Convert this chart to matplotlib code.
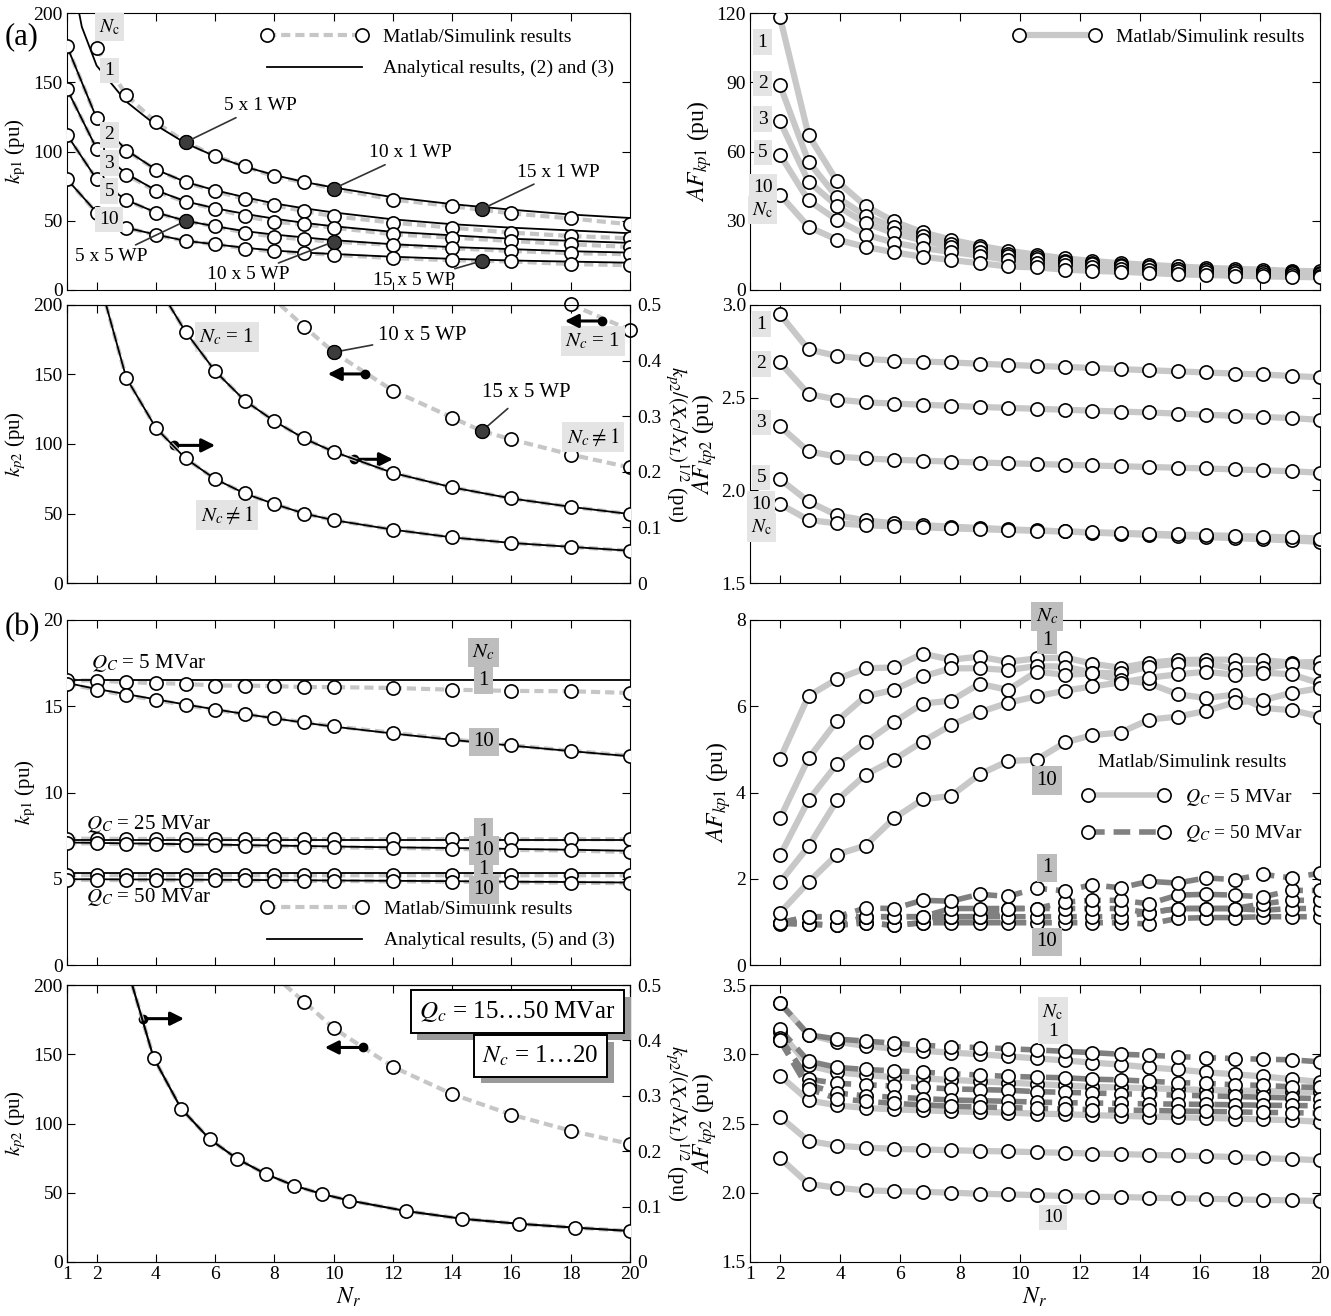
import numpy as np
import matplotlib.pyplot as plt
import matplotlib.patheffects as pe
from matplotlib.lines import Line2D

plt.rcParams['font.family'] = 'serif'
plt.rcParams['font.serif'] = ['Liberation Serif', 'DejaVu Serif']
plt.rcParams['mathtext.fontset'] = 'stix'

# ---------------- data ----------------
# x positions (N_r)
NR_A = [1, 2, 3, 4, 5, 6, 7, 8, 9, 10, 12, 14, 16, 18, 20]
NR_B = [2.0, 2.95, 3.9, 4.85, 5.8, 6.75, 7.7, 8.65, 9.6, 10.55, 11.5, 12.4,
        13.35, 14.3, 15.25, 16.2, 17.15, 18.1, 19.05, 20.0]

# (a) top-left: k_p1, Matlab/Simulink points (Nc = 1 starts at Nr = 2)
kp1_sim_nc1 = [174.6, 140.7, 121, 106.7, 96.9, 89.2, 82, 77.8, 73.2, 65.3, 60.5, 55.3, 51.7, 47.4]
kp1_sim_nc2 = [176, 124, 100.7, 86.8, 77.8, 71.3, 65.8, 61.2, 56.9, 53.3, 48.6, 45, 41.4, 39, 37.3]
kp1_sim_nc3 = [145, 102, 83.3, 71.3, 63.6, 58.6, 53.3, 49.3, 47.4, 45, 40.2, 37.8, 35.4, 33, 31.1]
kp1_sim_nc5 = [112, 80, 64.8, 55.7, 49.8, 45.9, 41.4, 38.5, 36.5, 34.9, 32.5, 30.1, 28.2, 26.6, 25.8]
kp1_sim_nc10 = [80, 55.7, 45, 39.7, 35.4, 33, 29.9, 27.8, 26.6, 25.4, 23, 21.5, 20.6, 18.7, 17.9]
# analytical curves
kp1_ana_nc1_nr = [1.3, 1.5, 2, 3, 4, 5, 6, 7, 8, 9, 10, 12, 14, 16, 18, 20]
kp1_ana_nc1 = [212, 190, 162, 136, 119, 106, 96.5, 89, 83, 78, 74, 67, 62, 58, 54.5, 52]
kp1_ana_nc2 = [176, 124, 101, 87, 78, 72, 67, 62.5, 59, 56, 51, 47.5, 45, 43, 41]
kp1_ana_nc3 = [145, 102, 84, 72, 64, 59, 55, 51.5, 48.5, 46, 42, 39.5, 37, 35.5, 34]
kp1_ana_nc5 = [112, 80, 65, 56, 50, 46, 42.5, 40, 38, 36, 33, 31, 29.5, 28, 27]
kp1_ana_nc10 = [80, 56, 45, 40, 35.5, 33, 30.5, 28.5, 27, 26, 24, 22.5, 21.3, 20.5, 19.7]
# working points (filled markers)
wp_nr = [5, 10, 15, 5, 10, 15]
wp_kp1 = [106.7, 73.2, 58.4, 49.8, 34.9, 21]
wp_names = ['5 x 1 WP', '10 x 1 WP', '15 x 1 WP', '5 x 5 WP', '10 x 5 WP', '15 x 5 WP']

# (a) top-right: AF_kp1
af1_nc1 = [118.1, 67.1, 47.2, 36.4, 29.7, 25.0, 21.8, 19.2, 17.0, 15.3, 13.7, 12.6, 11.6, 10.9, 10.2, 9.6, 9.2, 8.8, 8.3, 8.1]
af1_nc2 = [88.7, 55.6, 40.2, 32.1, 27.2, 23.2, 20.1, 18.0, 15.8, 14.1, 12.7, 11.6, 10.7, 9.9, 9.3, 8.8, 8.3, 7.9, 7.6, 7.4]
af1_nc3 = [73.0, 47.0, 36.4, 29.0, 24.6, 21.5, 18.7, 16.5, 14.7, 13.3, 12.3, 11.2, 10.5, 9.9, 9.2, 8.8, 8.2, 7.8, 7.4, 7.1]
af1_nc5 = [58.6, 38.8, 30.3, 24.0, 20.5, 18.2, 16.5, 14.9, 13.0, 11.9, 10.9, 9.9, 9.2, 8.5, 8.1, 7.6, 7.4, 6.9, 6.6, 6.2]
af1_nc10 = [41.3, 27.4, 21.8, 18.7, 16.3, 14.4, 13.0, 11.6, 10.2, 9.8, 8.8, 8.3, 7.9, 7.4, 6.8, 6.5, 6.2, 5.9, 5.7, 5.5]
af_labels = ['1', '2', '3', '5', '10']

# (a) second row left: k_p2 (left axis) and k_p2/(Xc/XL)^1/2 (right axis)
kp2n_nc1_nr = [4.45, 5, 6, 7, 8, 9, 10, 12, 14, 16, 18, 20]
kp2n_nc1 = [0.5, 0.452, 0.381, 0.328, 0.291, 0.260, 0.236, 0.198, 0.172, 0.152, 0.137, 0.124]
kp2n_ncx_nr = [2.32, 3, 4, 5, 6, 7, 8, 9, 10, 12, 14, 16, 18, 20]
kp2n_ncx = [0.5, 0.369, 0.279, 0.224, 0.187, 0.161, 0.142, 0.125, 0.113, 0.096, 0.082, 0.072, 0.065, 0.058]
kp2_ncx_nr = [8.2, 9, 10, 12, 14, 15, 16, 18, 20]
kp2_ncx = [200, 184.5, 166, 138.4, 119, 109.3, 103.3, 92.4, 83.1]
kp2_nc1_nr = [18, 20]
kp2_nc1 = [200.5, 182]

# (a) second row right: AF_kp2
af2_nc1 = [2.95, 2.76, 2.725, 2.71, 2.70, 2.695, 2.69, 2.683, 2.677, 2.671, 2.666, 2.66, 2.654, 2.648, 2.642, 2.636, 2.63, 2.625, 2.617, 2.61]
af2_nc2 = [2.69, 2.52, 2.49, 2.475, 2.468, 2.462, 2.456, 2.45, 2.445, 2.44, 2.435, 2.43, 2.425, 2.42, 2.414, 2.408, 2.402, 2.396, 2.39, 2.38]
af2_nc3 = [2.345, 2.21, 2.182, 2.172, 2.165, 2.16, 2.155, 2.15, 2.146, 2.142, 2.138, 2.134, 2.13, 2.126, 2.122, 2.118, 2.113, 2.108, 2.103, 2.095]
af2_nc5 = [2.06, 1.94, 1.865, 1.838, 1.822, 1.812, 1.804, 1.797, 1.79, 1.784, 1.778, 1.772, 1.766, 1.76, 1.754, 1.748, 1.742, 1.736, 1.73, 1.722]
af2_nc10 = [1.926, 1.84, 1.822, 1.812, 1.805, 1.8, 1.795, 1.79, 1.786, 1.782, 1.778, 1.774, 1.77, 1.766, 1.762, 1.758, 1.754, 1.75, 1.746, 1.74]

# (b) third row left: k_p1 for Qc = 5, 25, 50 MVar
q5_nc1_sim = [16.5, 16.49, 16.4, 16.34, 16.3, 16.2, 16.2, 16.17, 16.11, 16.11, 16.06, 15.96, 15.89, 15.87, 15.77]
q5_nc10_sim = [16.3, 15.96, 15.64, 15.36, 15.07, 14.79, 14.54, 14.31, 14.07, 13.84, 13.46, 13.08, 12.74, 12.42, 12.13]
q25_nc1_sim = [7.32, 7.32, 7.31, 7.31, 7.31, 7.3, 7.3, 7.3, 7.3, 7.3, 7.3, 7.3, 7.29, 7.29, 7.29]
q25_nc10_sim = [7.05, 7.05, 7.01, 7.0, 6.98, 6.96, 6.92, 6.9, 6.86, 6.82, 6.79, 6.73, 6.67, 6.64, 6.54]
q50_nc1_sim = [5.22, 5.22, 5.21, 5.21, 5.21, 5.21, 5.21, 5.2, 5.2, 5.2, 5.2, 5.2, 5.2, 5.2, 5.2]
q50_nc10_sim = [4.93, 4.93, 4.92, 4.92, 4.91, 4.9, 4.9, 4.89, 4.88, 4.87, 4.85, 4.83, 4.8, 4.77, 4.74]
flat_nr = [1, 20]
q5_nc1_ana = [16.55, 16.55]
q25_nc1_ana = [7.22, 7.22]
q50_nc1_ana = [5.31, 5.31]
q5_nc10_ana = [16.35, 16.0, 15.7, 15.4, 15.1, 14.82, 14.55, 14.3, 14.05, 13.82, 13.42, 13.05, 12.72, 12.4, 12.1]
q25_nc10_ana = [7.1, 7.08, 7.05, 7.03, 7.0, 6.98, 6.95, 6.92, 6.9, 6.87, 6.82, 6.78, 6.73, 6.68, 6.62]
q50_nc10_ana = [4.97, 4.97, 4.96, 4.96, 4.95, 4.94, 4.93, 4.92, 4.91, 4.9, 4.88, 4.86, 4.83, 4.81, 4.78]

# (b) third row right: AF_kp1, Qc = 5 MVar (solid) and 50 MVar (dashed)
af3_q5_nc1 = [4.78, 6.24, 6.63, 6.88, 6.9, 7.22, 7.08, 7.15, 7.03, 7.11, 7.13, 6.99, 6.89, 7.01, 7.07, 7.08, 7.08, 7.07, 7.01, 7.03]
af3_q5_nc2 = [3.4, 4.79, 5.66, 6.23, 6.38, 6.69, 6.88, 6.88, 6.84, 6.93, 6.92, 6.78, 6.76, 6.92, 6.99, 6.99, 6.88, 6.88, 6.98, 6.88]
af3_q5_nc3 = [2.54, 3.82, 4.66, 5.16, 5.63, 6.06, 6.13, 6.52, 6.38, 6.8, 6.73, 6.76, 6.61, 6.53, 6.28, 6.19, 6.27, 5.96, 5.91, 5.76]
af3_q5_nc5 = [1.92, 2.75, 3.82, 4.41, 4.76, 5.18, 5.56, 5.86, 6.08, 6.23, 6.36, 6.46, 6.55, 6.66, 6.74, 6.8, 6.73, 6.78, 6.74, 6.53]
af3_q5_nc10 = [1.21, 1.92, 2.56, 2.77, 3.4, 3.84, 3.92, 4.42, 4.73, 4.76, 5.16, 5.33, 5.39, 5.69, 5.76, 5.89, 6.09, 6.14, 6.31, 6.42]
af3_q50_nc1 = [0.98, 1.12, 1.12, 1.32, 1.31, 1.5, 1.48, 1.64, 1.59, 1.78, 1.72, 1.86, 1.79, 1.94, 1.9, 2.02, 1.98, 2.1, 2.02, 2.13]
af3_q50_nc2 = [0.98, 1.12, 1.12, 1.12, 1.12, 1.12, 1.31, 1.31, 1.31, 1.31, 1.46, 1.5, 1.5, 1.42, 1.62, 1.64, 1.62, 1.58, 1.73, 1.73]
af3_q50_nc3 = [0.98, 0.95, 0.92, 1.12, 1.12, 1.12, 1.12, 1.12, 1.31, 1.31, 1.31, 1.31, 1.31, 1.21, 1.31, 1.31, 1.31, 1.42, 1.5, 1.5]
af3_q50_nc5 = [0.98, 0.95, 0.92, 0.98, 0.92, 0.98, 1.12, 1.12, 1.12, 1.12, 1.12, 1.12, 1.12, 1.21, 1.31, 1.31, 1.31, 1.27, 1.31, 1.31]
af3_q50_nc10 = [0.96, 0.95, 0.92, 0.98, 0.92, 0.98, 0.98, 0.98, 0.98, 0.98, 0.98, 0.98, 0.98, 0.95, 1.08, 1.1, 1.1, 1.12, 1.12, 1.12]

# (b) bottom left: k_p2 for Qc = 15...50 MVar
kp2n_b_nr = [3.2, 3.92, 4.85, 5.81, 6.75, 7.7, 8.66, 9.59, 10.53, 12.44, 14.34, 16.24, 18.15, 20.0]
kp2n_b = [0.5, 0.369, 0.277, 0.222, 0.186, 0.159, 0.138, 0.123, 0.111, 0.092, 0.078, 0.069, 0.062, 0.056]
kp2_b_nr = [8.35, 9, 10, 12, 14, 16, 18, 20]
kp2_b = [200, 188, 168.8, 140.9, 121.2, 106.4, 94.8, 85.2]

# (b) bottom right: AF_kp2, Qc = 5 MVar (solid) and 50 MVar (dashed)
af4_q5_nc1 = [3.37, 3.14, 3.09, 3.06, 3.04, 3.025, 3.012, 3.0, 2.985, 2.97, 2.955, 2.94, 2.925, 2.905, 2.89, 2.87, 2.855, 2.84, 2.82, 2.80]
af4_q5_nc2 = [3.16, 2.92, 2.87, 2.85, 2.835, 2.825, 2.815, 2.805, 2.795, 2.785, 2.775, 2.765, 2.76, 2.755, 2.748, 2.742, 2.738, 2.734, 2.73, 2.728]
af4_q5_nc3 = [2.845, 2.667, 2.631, 2.612, 2.602, 2.595, 2.588, 2.583, 2.579, 2.571, 2.567, 2.56, 2.555, 2.55, 2.545, 2.54, 2.536, 2.529, 2.524, 2.512]
af4_q5_nc5 = [2.548, 2.374, 2.34, 2.326, 2.317, 2.312, 2.307, 2.302, 2.298, 2.293, 2.288, 2.283, 2.279, 2.274, 2.269, 2.264, 2.258, 2.25, 2.243, 2.235]
af4_q5_nc10 = [2.25, 2.064, 2.036, 2.017, 2.012, 2.007, 2.0, 1.993, 1.988, 1.983, 1.976, 1.971, 1.969, 1.964, 1.96, 1.957, 1.952, 1.948, 1.945, 1.94]
af4_q50_nc1 = [3.37, 3.14, 3.11, 3.095, 3.08, 3.065, 3.055, 3.048, 3.04, 3.031, 3.021, 3.012, 3.0, 2.993, 2.983, 2.976, 2.969, 2.964, 2.96, 2.945]
af4_q50_nc2 = [3.18, 2.95, 2.905, 2.89, 2.88, 2.87, 2.86, 2.85, 2.84, 2.835, 2.83, 2.82, 2.815, 2.805, 2.795, 2.79, 2.78, 2.775, 2.765, 2.76]
af4_q50_nc3 = [3.12, 2.82, 2.79, 2.78, 2.77, 2.76, 2.75, 2.745, 2.74, 2.73, 2.725, 2.72, 2.715, 2.71, 2.705, 2.7, 2.695, 2.69, 2.685, 2.68]
af4_q50_nc5 = [3.1, 2.78, 2.72, 2.7, 2.69, 2.68, 2.67, 2.665, 2.66, 2.655, 2.65, 2.648, 2.645, 2.642, 2.64, 2.638, 2.635, 2.632, 2.63, 2.628]
af4_q50_nc10 = [3.1, 2.75, 2.68, 2.66, 2.645, 2.635, 2.625, 2.62, 2.615, 2.61, 2.605, 2.6, 2.597, 2.594, 2.59, 2.587, 2.584, 2.58, 2.578, 2.575]

# ---------------- styling ----------------
SIM_GRAY = '#c6c6c6'
LINE_GRAY = '#c8c8c8'
DARK_GRAY = '#808080'
BOX_LIGHT = '#e4e4e4'
BOX_MID = '#bdbdbd'
WP_FILL = '#3c3c3c'
DASH = (0, (2.2, 1.2))
DASH_DARK = (0, (3, 1.6))
MK = dict(marker='o', ms=9.5, mfc='white', mec='black', mew=1.2)

W, H = 1331, 1316
fig = plt.figure(figsize=(W / 100, H / 100), dpi=100)


def make_ax(xs, ys):
    x0, x1 = xs
    y0, y1 = ys
    return fig.add_axes([x0 / W, 1 - y1 / H, (x1 - x0) / W, (y1 - y0) / H])


def setup(ax, ylim, yticks, ylabels, bottom=False, right=True):
    ax.set_xlim(1, 20)
    ax.set_ylim(*ylim)
    ax.set_xticks([1, 2, 4, 6, 8, 10, 12, 14, 16, 18, 20])
    ax.set_yticks(yticks)
    ax.set_yticklabels(ylabels)
    ax.tick_params(direction='in', top=True, right=right, length=6, labelsize=14,
                   labelbottom=bottom, pad=3)
    if bottom:
        ax.set_xlabel(r'$N_r$', fontsize=17, labelpad=2)


def twin(ax):
    axr = ax.twinx()
    axr.set_ylim(0, 0.5)
    axr.set_yticks([0, 0.1, 0.2, 0.3, 0.4, 0.5])
    axr.set_yticklabels(['0', '0.1', '0.2', '0.3', '0.4', '0.5'])
    axr.tick_params(direction='in', length=6, labelsize=14, pad=5)
    axr.set_ylabel(r'$k_{p2}/(X_C/X_L)^{1/2}$ (pu)', fontsize=15, rotation=270, labelpad=21)
    return axr


def tag(ax, x, y, s, fc=BOX_LIGHT, fs=14, **kw):
    ax.text(x, y, s, ha='center', va='center', fontsize=fs, zorder=6,
            bbox=dict(boxstyle='square,pad=0.22', fc=fc, ec='none'), **kw)


def side_arrow(ax, x0, x1, y):
    ax.annotate('', xy=(x1, y), xytext=(x0, y),
                arrowprops=dict(arrowstyle='-|>', color='k', lw=2.2, mutation_scale=20,
                                shrinkA=0, shrinkB=0), zorder=7)
    ax.plot([x0], [y], 'o', color='k', ms=6, zorder=8)


def sim_handle(color, ls, lw):
    return Line2D([], [], color=color, lw=lw, ls=ls, **MK)


LEFT = (67, 630)
RIGHT = (750, 1320)
ROW1, ROW2, ROW3, ROW4 = (13, 290), (305, 583), (620, 965), (985, 1262)
h_ana = Line2D([], [], color='k', lw=1.3)

# ======== (a) row 1 left: k_p1 ========
ax = make_ax(LEFT, ROW1)
setup(ax, (0, 200), [0, 50, 100, 150, 200], ['0', '50', '100', '150', '200'])
ax.set_ylabel(r'$k_{\mathrm{p1}}$ (pu)', fontsize=15)
sims = [(NR_A[1:], kp1_sim_nc1), (NR_A, kp1_sim_nc2), (NR_A, kp1_sim_nc3),
        (NR_A, kp1_sim_nc5), (NR_A, kp1_sim_nc10)]
anas = [(kp1_ana_nc1_nr, kp1_ana_nc1), (NR_A, kp1_ana_nc2), (NR_A, kp1_ana_nc3),
        (NR_A, kp1_ana_nc5), (NR_A, kp1_ana_nc10)]
for (nx, ny), (ax_, ay) in zip(sims, anas):
    ax.plot(nx, ny, color=SIM_GRAY, lw=3, ls=DASH, zorder=2)
    ax.plot(ax_, ay, color='k', lw=1.3, zorder=3)
    ax.plot(nx, ny, ls='none', zorder=4, **MK)
ax.plot(wp_nr, wp_kp1, 'o', ms=10, color=WP_FILL, mec='black', zorder=5)
wp_text = [(6.3, 133, 'left'), (11.2, 99, 'left'), (16.2, 85, 'left'),
           (3.7, 24, 'right'), (8.5, 11, 'right'), (14.1, 7, 'right')]
for (tx, ty, ha), x, y, name in zip(wp_text, wp_nr, wp_kp1, wp_names):
    ax.annotate(name, xy=(x, y), xytext=(tx, ty), ha=ha, va='center', fontsize=14,
                arrowprops=dict(arrowstyle='-', color='#333333', lw=1.2, shrinkA=1, shrinkB=5),
                zorder=6)
tag(ax, 2.43, 190, r'$N_{\mathrm{c}}$')
for s, y in zip(['1', '2', '3', '5', '10'], [158.6, 112, 91.6, 71.3, 51]):
    tag(ax, 2.43, y, s)
ax.legend([sim_handle(SIM_GRAY, DASH, 3), h_ana],
          ['Matlab/Simulink results', 'Analytical results, (2) and (3)'],
          loc='upper right', frameon=False, fontsize=14, handlelength=5.5, numpoints=2,
          borderaxespad=0.4, labelspacing=0.7)

# ======== (a) row 1 right: AF_kp1 ========
ax = make_ax(RIGHT, ROW1)
setup(ax, (0, 120), [0, 30, 60, 90, 120], ['0', '30', '60', '90', '120'])
ax.set_ylabel(r'$AF_{kp1}$ (pu)', fontsize=17, labelpad=2)
for ys in [af1_nc1, af1_nc2, af1_nc3, af1_nc5, af1_nc10]:
    ax.plot(NR_B, ys, color=LINE_GRAY, lw=4.5, zorder=2, solid_capstyle='round')
    ax.plot(NR_B, ys, ls='none', zorder=4, **MK)
for s, y in zip(af_labels + [r'$N_{\mathrm{c}}$'], [107.4, 89.4, 74, 59.6, 44.6, 34.5]):
    tag(ax, 1.42, y, s)
ax.legend([sim_handle(LINE_GRAY, '-', 4.5)], ['Matlab/Simulink results'],
          loc='upper right', frameon=False, fontsize=14, handlelength=4.5, numpoints=2,
          borderaxespad=0.4)

# ======== (a) row 2 left: k_p2 with twin axis ========
ax = make_ax(LEFT, ROW2)
setup(ax, (0, 200), [0, 50, 100, 150, 200], ['0', '50', '100', '150', '200'], right=False)
ax.set_ylabel(r'$k_{p2}$ (pu)', fontsize=15)
axr = twin(ax)
for nx, ny in [(kp2n_nc1_nr, kp2n_nc1), (kp2n_ncx_nr, kp2n_ncx)]:
    axr.plot(nx, ny, color=SIM_GRAY, lw=3, ls=DASH, zorder=2)
    axr.plot(nx, ny, color='k', lw=1.3, zorder=3)
    axr.plot(nx[1:], ny[1:], ls='none', zorder=4, **MK)
ax.plot(kp2_ncx_nr, kp2_ncx, color=SIM_GRAY, lw=3, ls=DASH, zorder=2)
ax.plot(kp2_ncx_nr[1:], kp2_ncx[1:], ls='none', zorder=4, **MK)
ax.plot(kp2_nc1_nr, kp2_nc1, color=SIM_GRAY, lw=3, ls=DASH, zorder=2)
ax.plot(kp2_nc1_nr, kp2_nc1, ls='none', zorder=4, clip_on=False, **MK)
ax.plot([10, 15], [166, 109.3], 'o', ms=10, color=WP_FILL, mec='black', zorder=5)
ax.annotate('10 x 5 WP', xy=(10, 166), xytext=(11.5, 178), ha='left', va='center', fontsize=15,
            arrowprops=dict(arrowstyle='-', color='#333333', lw=1.2, shrinkA=2, shrinkB=5))
ax.annotate('15 x 5 WP', xy=(15, 109.3), xytext=(15, 137), ha='left', va='center', fontsize=15,
            arrowprops=dict(arrowstyle='-', color='#333333', lw=1.2, shrinkA=4, shrinkB=5))
tag(ax, 6.4, 177, r'$N_c$ = 1', fs=15)
tag(ax, 6.4, 49, r'$N_c \neq 1$', fs=15)
tag(ax, 18.75, 174, r'$N_c$ = 1', fs=15)
tag(ax, 18.75, 105, r'$N_c \neq 1$', fs=15)
side_arrow(ax, 4.6, 6.0, 99)
side_arrow(ax, 10.7, 12.0, 89)
side_arrow(ax, 11.07, 9.8, 150.4)
side_arrow(ax, 19.07, 17.8, 188.5)

# ======== (a) row 2 right: AF_kp2 ========
ax = make_ax(RIGHT, ROW2)
setup(ax, (1.5, 3.0), [1.5, 2.0, 2.5, 3.0], ['1.5', '2.0', '2.5', '3.0'])
ax.set_ylabel(r'$AF_{kp2}$ (pu)', fontsize=17, labelpad=2)
for ys in [af2_nc1, af2_nc2, af2_nc3, af2_nc5, af2_nc10]:
    ax.plot(NR_B, ys, color=LINE_GRAY, lw=4.5, zorder=2)
    ax.plot(NR_B, ys, ls='none', zorder=4, **MK)
for s, y in zip(af_labels + [r'$N_{\mathrm{c}}$'], [2.896, 2.683, 2.365, 2.069, 1.926, 1.8]):
    tag(ax, 1.38, y, s)

# ======== (b) row 3 left: k_p1 vs Qc ========
ax = make_ax(LEFT, ROW3)
setup(ax, (0, 20), [0, 5, 10, 15, 20], ['0', '5', '10', '15', '20'])
ax.set_ylabel(r'$k_{\mathrm{p1}}$ (pu)', fontsize=15)
groups = [(q5_nc1_sim, flat_nr, q5_nc1_ana), (q5_nc10_sim, NR_A, q5_nc10_ana),
          (q25_nc1_sim, flat_nr, q25_nc1_ana), (q25_nc10_sim, NR_A, q25_nc10_ana),
          (q50_nc1_sim, flat_nr, q50_nc1_ana), (q50_nc10_sim, NR_A, q50_nc10_ana)]
for sim, anx, ana in groups:
    ax.plot(NR_A, sim, color=SIM_GRAY, lw=3, ls=DASH, zorder=2)
    ax.plot(anx, ana, color='k', lw=1.3, zorder=3)
    ax.plot(NR_A, sim, ls='none', zorder=4, **MK)
ax.text(1.8, 17.5, r'$Q_C$ = 5 MVar', fontsize=15, va='center')
ax.text(1.65, 8.2, r'$Q_C$ = 25 MVar', fontsize=15, va='center')
ax.text(1.65, 3.95, r'$Q_C$ = 50 MVar', fontsize=15, va='center')
tag(ax, 15.06, 18.1, r'$N_c$', fc=BOX_MID, fs=15)
for s, y in zip(['1', '10', '1', '10', '1', '10'], [16.5, 12.93, 7.68, 6.64, 5.54, 4.36]):
    tag(ax, 15.06, y, s, fc=BOX_MID, fs=15)
ax.legend([sim_handle(SIM_GRAY, DASH, 3), h_ana],
          ['Matlab/Simulink results', 'Analytical results, (5) and (3)'],
          loc='lower right', frameon=False, fontsize=14, handlelength=5.5, numpoints=2,
          borderaxespad=0.4, labelspacing=0.7)

# ======== (b) row 3 right: AF_kp1 ========
ax = make_ax(RIGHT, ROW3)
setup(ax, (0, 8), [0, 2, 4, 6, 8], ['0', '2', '4', '6', '8'])
ax.set_ylabel(r'$AF_{kp1}$ (pu)', fontsize=17, labelpad=2)
for ys in [af3_q50_nc10, af3_q50_nc5, af3_q50_nc3, af3_q50_nc2, af3_q50_nc1]:
    ax.plot(NR_B, ys, color=DARK_GRAY, lw=4, ls=DASH_DARK, zorder=2)
    ax.plot(NR_B, ys, ls='none', zorder=4, **MK)
for ys in [af3_q5_nc1, af3_q5_nc2, af3_q5_nc3, af3_q5_nc5, af3_q5_nc10]:
    ax.plot(NR_B, ys, color=LINE_GRAY, lw=4.5, zorder=2)
    ax.plot(NR_B, ys, ls='none', zorder=4, **MK)
tag(ax, 10.9, 8.08, r'$N_c$', fc=BOX_MID, fs=15)
tag(ax, 10.9, 7.53, '1', fc=BOX_MID, fs=15)
tag(ax, 10.9, 4.28, '10', fc=BOX_MID, fs=15)
tag(ax, 10.9, 2.25, '1', fc=BOX_MID, fs=15)
tag(ax, 10.9, 0.54, '10', fc=BOX_MID, fs=15)
ax.legend([sim_handle(LINE_GRAY, '-', 4), sim_handle(DARK_GRAY, DASH_DARK, 4)],
          [r'$Q_C$ = 5 MVar', r'$Q_C$ = 50 MVar'],
          title='Matlab/Simulink results', title_fontsize=14,
          loc='center right', bbox_to_anchor=(1.0, 0.48), frameon=False,
          fontsize=14, handlelength=4.5, numpoints=2, labelspacing=0.8)

# ======== (b) row 4 left: k_p2 with twin axis ========
ax = make_ax(LEFT, ROW4)
setup(ax, (0, 200), [0, 50, 100, 150, 200], ['0', '50', '100', '150', '200'],
      bottom=True, right=False)
ax.set_ylabel(r'$k_{p2}$ (pu)', fontsize=15)
axr = twin(ax)
axr.plot(kp2n_b_nr, kp2n_b, color=SIM_GRAY, lw=3, ls=DASH, zorder=2)
axr.plot(kp2n_b_nr, kp2n_b, color='k', lw=1.5, zorder=3)
axr.plot(kp2n_b_nr[1:], kp2n_b[1:], ls='none', zorder=4, **MK)
ax.plot(kp2_b_nr, kp2_b, color=SIM_GRAY, lw=3, ls=DASH, zorder=2)
ax.plot(kp2_b_nr[1:], kp2_b[1:], ls='none', zorder=4, **MK)
side_arrow(ax, 3.57, 4.95, 175.7)
side_arrow(ax, 10.99, 9.7, 154.9)
# boxed notes with a grey drop shadow
for x, y, s in [(16.2, 181, r'$Q_c$ = 15…50 MVar'), (16.98, 149, r'$N_c$ = 1…20')]:
    t = axr.text(x, y * 0.0025, s, fontsize=18, ha='center', va='center', zorder=7,
                 bbox=dict(boxstyle='square,pad=0.35', fc='white', ec='black', lw=1.4))
    t.get_bbox_patch().set_path_effects([
        pe.SimplePatchShadow(offset=(5, -5), shadow_rgbFace='#9a9a9a', alpha=1.0),
        pe.Normal()])

# ======== (b) row 4 right: AF_kp2 ========
ax = make_ax(RIGHT, ROW4)
setup(ax, (1.5, 3.5), [1.5, 2.0, 2.5, 3.0, 3.5], ['1.5', '2.0', '2.5', '3.0', '3.5'], bottom=True)
ax.set_ylabel(r'$AF_{kp2}$ (pu)', fontsize=17, labelpad=2)
for ys in [af4_q5_nc1, af4_q5_nc2, af4_q5_nc3, af4_q5_nc5, af4_q5_nc10]:
    ax.plot(NR_B, ys, color=LINE_GRAY, lw=4.5, zorder=2)
for ys in [af4_q50_nc1, af4_q50_nc2, af4_q50_nc3, af4_q50_nc5, af4_q50_nc10]:
    ax.plot(NR_B, ys, color=DARK_GRAY, lw=4, ls=DASH_DARK, zorder=2.5)
for ys in [af4_q5_nc1, af4_q5_nc2, af4_q5_nc3, af4_q5_nc5, af4_q5_nc10,
           af4_q50_nc1, af4_q50_nc2, af4_q50_nc3, af4_q50_nc5, af4_q50_nc10]:
    ax.plot(NR_B, ys, ls='none', zorder=4, **MK)
tag(ax, 11.1, 3.24, r'$N_{\mathrm{c}}$' + '\n1', linespacing=1.1)
tag(ax, 11.1, 1.82, '10')

fig.text(22 / W, 1 - 37 / H, '(a)', fontsize=22, va='center', ha='center')
fig.text(22 / W, 1 - 628 / H, '(b)', fontsize=22, va='center', ha='center')

fig.savefig('out.png', dpi=100)
